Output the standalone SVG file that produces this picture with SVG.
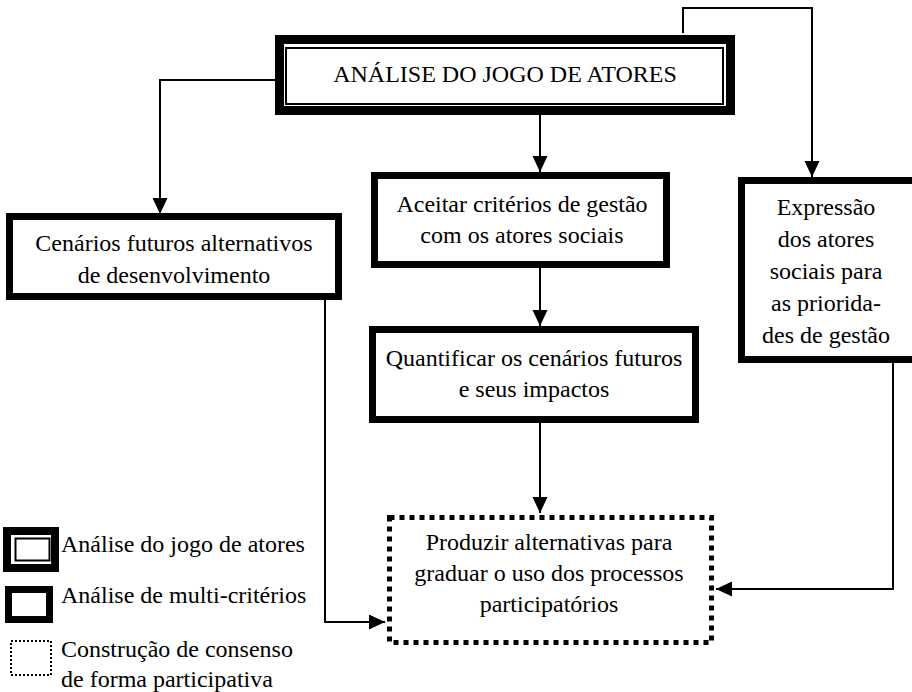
<svg xmlns="http://www.w3.org/2000/svg" width="912" height="692" viewBox="0 0 912 692">
<style>
text{font-size:24px;fill:#000;text-anchor:middle}
.leg{text-anchor:start}
.box{fill:#fff;stroke:#000;stroke-width:7}
.thin{fill:none;stroke:#000;stroke-width:2}
.dot{fill:#fff;stroke:#000;stroke-width:5;stroke-dasharray:5 5}
.con{fill:none;stroke:#000;stroke-width:2}
.arr{marker-end:url(#ah)}
</style>
<defs>
<marker id="ah" markerUnits="userSpaceOnUse" markerWidth="16" markerHeight="16" refX="16" refY="7.5" orient="auto">
<path d="M0,0 L16,7.5 L0,15 z" fill="#000"/>
</marker>
</defs>
<rect width="912" height="692" fill="#fff"/>
<g id="connectors">
<path class="con arr" d="M275,80 H160 V214"/>
<path class="con arr" d="M540,115 V172"/>
<path class="con arr" d="M683,33 V8 H812 V177"/>
<path class="con arr" d="M540,268 V326"/>
<path class="con arr" d="M540,423 V513"/>
<path class="con arr" d="M325,300 V622 H385"/>
<path class="con arr" d="M893,363 V589 H716"/>
</g>
<g font-family="Liberation Serif, Tinos, DejaVu Serif, serif">
<g id="node-analise">
<rect x="279.5" y="39.5" width="451" height="71" fill="#fff" stroke="#000" stroke-width="9"/>
<rect class="thin" x="286" y="48" width="437" height="56"/>
<text x="505" y="82">ANÁLISE DO JOGO DE ATORES</text>
</g>
<g id="node-cenarios">
<rect class="box" x="9.5" y="216.5" width="329" height="80"/>
<text x="174" y="251">Cenários futuros alternativos</text>
<text x="174" y="283">de desenvolvimento</text>
</g>
<g id="node-aceitar">
<rect class="box" x="374.5" y="175.5" width="292" height="89"/>
<text x="522" y="212">Aceitar critérios de gestão</text>
<text x="522" y="243">com os atores sociais</text>
</g>
<g id="node-quantificar">
<rect class="box" x="372.5" y="329.5" width="323" height="90"/>
<text x="534" y="366">Quantificar os cenários futuros</text>
<text x="534" y="397">e seus impactos</text>
</g>
<g id="node-expressao">
<rect class="box" x="741.5" y="180.5" width="174" height="179"/>
<text x="826" y="215">Expressão</text>
<text x="826" y="247">dos atores</text>
<text x="826" y="279">sociais para</text>
<text x="826" y="311">as priorida-</text>
<text x="826" y="343">des de gestão</text>
</g>
<g id="node-produzir">
<rect class="dot" x="389.5" y="517.5" width="322" height="125"/>
<text x="549" y="550">Produzir alternativas para</text>
<text x="549" y="581">graduar o uso dos processos</text>
<text x="549" y="612">participatórios</text>
</g>
<g id="legend">
<rect x="7" y="531" width="48" height="37" fill="#fff" stroke="#000" stroke-width="8"/>
<rect class="thin" x="15.5" y="538.5" width="34" height="22"/>
<text class="leg" x="61" y="552">Análise do jogo de atores</text>
<rect class="box" x="8.5" y="589.5" width="41" height="30"/>
<text class="leg" x="61" y="603">Análise de multi-critérios</text>
<rect x="11" y="641" width="40" height="34" fill="#fff" stroke="#000" stroke-width="2" stroke-dasharray="2 2"/>
<text class="leg" x="61" y="657">Construção de consenso</text>
<text class="leg" x="61" y="687">de forma participativa</text>
</g>
</g>
</svg>
